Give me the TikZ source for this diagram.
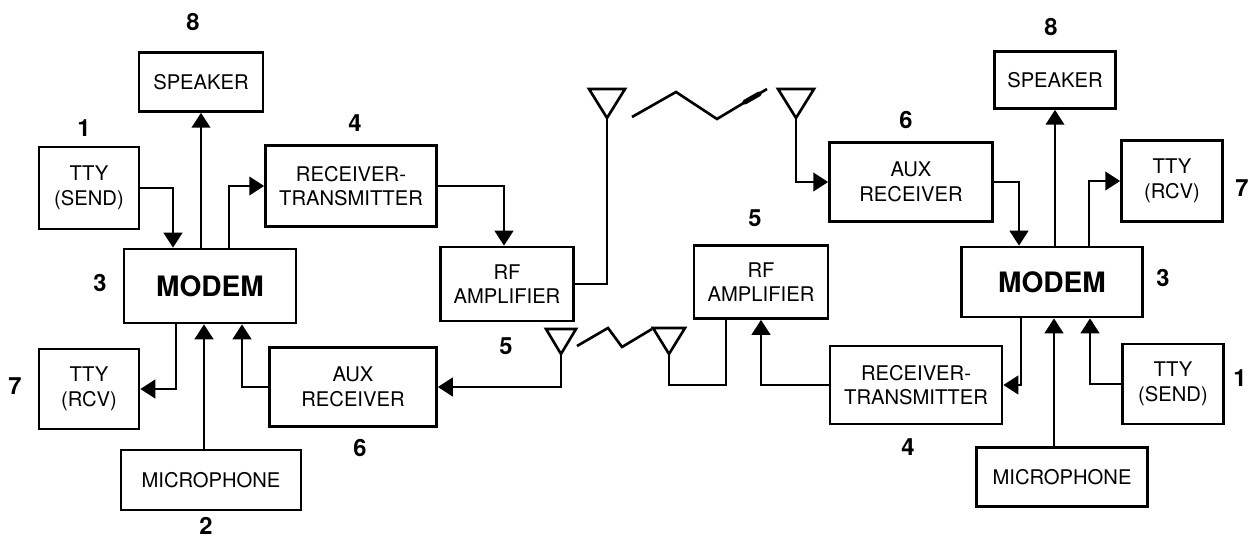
\documentclass[tikz,border=0pt]{standalone}
\usepackage{fontspec}
\setmainfont{TeX Gyre Heros}
\usetikzlibrary{calc,arrows.meta}

\begin{document}
\begin{tikzpicture}[x=0.02cm,y=-0.02cm,
box/.style={draw,line width=1.5pt,inner sep=0pt,align=center,font=\fontsize{11.5}{14}\selectfont},
modem/.style={box,font=\fontsize{16}{19}\selectfont\bfseries},
wh/.style 2 args={minimum width=#1*0.02cm,minimum height=#2*0.02cm},
num/.style={font=\fontsize{13.5}{16}\selectfont\bfseries},
wire/.style={line width=1.5pt},
arr/.style={wire,-{Triangle[length=8.5pt,width=10.5pt]}}]
\useasboundingbox (0,0) rectangle (1254,540);
% left station
\node[box,wh={124}{59}] (spkL) at (201,82) {SPEAKER};
\node[box,wh={100}{82}] (ttysL) at (89,188) {TTY\\(SEND)};
\node[box,wh={171}{81}] (rtL) at (351,186) {RECEIVER-\\TRANSMITTER};
\node[modem,wh={172}{74}] (modL) at (210,286) {MODEM};
\node[box,wh={100}{80}] (ttyrL) at (89,389) {TTY\\(RCV)};
\node[box,wh={180}{60}] (micL) at (211,480) {MICROPHONE};
\node[box,wh={167}{79}] (auxL) at (353,387) {AUX\\RECEIVER};
\node[box,wh={133}{74}] (rfL) at (507,284) {RF\\AMPLIFIER};
% right station
\node[box,wh={134}{73}] (rfR) at (761,282) {RF\\AMPLIFIER};
\node[box,wh={163}{79}] (auxR) at (911,182) {AUX\\RECEIVER};
\node[box,wh={172}{78}] (rtR) at (916,385) {RECEIVER-\\TRANSMITTER};
\node[box,wh={121}{57}] (spkR) at (1055,80) {SPEAKER};
\node[box,wh={101}{81}] (ttyrR) at (1172,181) {TTY\\(RCV)};
\node[modem,wh={181}{70}] (modR) at (1052,282) {MODEM};
\node[box,wh={101}{80}] (ttysR) at (1173,384) {TTY\\(SEND)};
\node[box,wh={171}{59}] (micR) at (1062,477) {MICROPHONE};
% numbers
\foreach \n/\x/\y/\t in {n8L/193/22/8, n1L/84/128/1, n4L/355/123/4, n3L/100/283/3,
    n7L/15/386/7, n6L/360/448/6, n2L/206/526/2, n5L/506/346/5, n5R/755/218/5,
    n6R/906/120/6, n8R/1051/27/8, n7R/1242/188/7, n3R/1163/278/3, n1R/1240/378/1,
    n4R/908/447/4}
    \node[num] (\n) at (\x,\y) {\t};
% antennas
\foreach \n/\x/\y/\w/\h in {antA/607/118/18/29, antB/796/118/18/29,
    antC/561/354/15/25, antD/669/354/16/26} {
    \draw[wire] (\x-\w,\y-\h) -- (\x+\w,\y-\h) -- (\x,\y) -- cycle;
    \coordinate (\n) at (\x,\y);
}
% radio links
\draw[wire] (632,117) -- (676,92) -- (717,119) -- (767,89);
\draw[line width=2.8pt,line cap=round] (745,102) -- (759,94);
\draw[wire] (577,346) -- (608,328) -- (622,347) -- (652,329);
% taps for the microphones
\coordinate (micLtap) at ($(micL.north)+(-7,0)$);
\coordinate (micRtap) at ($(micR.north)+(-8,0)$);
% left connections
\draw[arr] (ttysL.east) -| ($(modL.north)+(-37,0)$);
\draw[arr] (spkL.south |- modL.north) -- (spkL.south);
\draw[arr] ($(modL.north)+(19,0)$) |- (rtL.west);
\draw[arr] ($(modL.south)+(-34,0)$) |- (ttyrL.east);
\draw[arr] (micLtap) -- (micLtap |- modL.south);
\draw[arr] (auxL.west) -| ($(modL.south)+(32,0)$);
\draw[arr] (rtL.east) -| ($(rfL.north)+(-3,0)$);
\draw[wire] (rfL.east) -| (antA);
\draw[arr] (antC) |- (auxL.east);
% right connections
\draw[arr] (antB) |- (auxR.west);
\draw[wire] (antD) -- (antD |- rtR.west) -| ($(rfR.south)+(-35,0)$);
\draw[arr] (rtR.west) -| (rfR.south);
\draw[arr] (auxR.east) -| ($(modR.north)+(-33,0)$);
\draw[arr] (spkR.south |- modR.north) -- (spkR.south);
\draw[arr] ($(modR.north)+(37,0)$) |- (ttyrR.west);
\draw[arr] ($(modR.south)+(-31,0)$) |- (rtR.east);
\draw[arr] (micRtap) -- (micRtap |- modR.south);
\draw[arr] (ttysR.west) -| ($(modR.south)+(38,0)$);
\end{tikzpicture}
\end{document}
